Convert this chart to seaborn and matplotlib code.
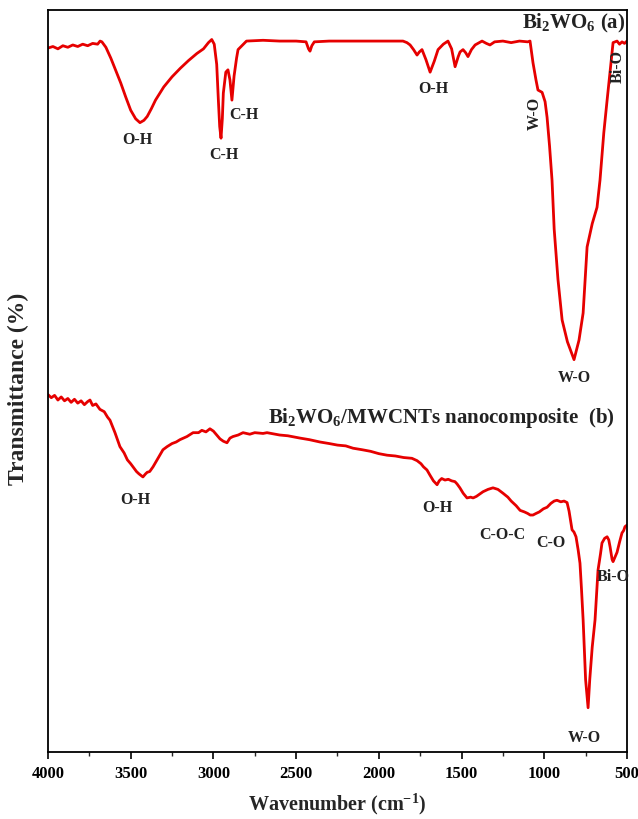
import pandas as pd
import seaborn as sns
import matplotlib.pyplot as plt
from matplotlib.ticker import MultipleLocator

# Bi2WO6 spectrum (a): wavenumber (cm-1) / transmittance (a.u.)
wn_a = [4000, 3970, 3940, 3910, 3880, 3850, 3820, 3790, 3760, 3730, 3700, 3685, 3674, 3650,
        3620, 3590, 3560, 3530, 3500, 3470, 3444, 3420, 3400, 3375, 3350, 3300, 3250, 3200,
        3150, 3100, 3060, 3030, 3010, 2995, 2980, 2970, 2962, 2954, 2946, 2940, 2925, 2912,
        2900, 2888, 2875, 2860, 2851, 2800, 2700, 2600, 2500, 2440, 2425, 2416, 2405, 2390,
        2300, 2200, 2100, 2000, 1900, 1854, 1830, 1811, 1790, 1769, 1755, 1739, 1715, 1690,
        1665, 1642, 1610, 1582, 1560, 1539, 1520, 1509, 1491, 1475, 1461, 1440, 1418, 1376,
        1350, 1328, 1300, 1250, 1200, 1150, 1100, 1086, 1068, 1050, 1038, 1013, 995, 983,
        968, 953, 940, 917, 892, 860, 820, 790, 765, 741, 710, 681, 663, 640, 620, 600, 584,
        560, 545, 530, 515, 500]
t_a = [95.1, 95.3, 95.0, 95.4, 95.2, 95.5, 95.3, 95.6, 95.4, 95.7, 95.6, 96.0, 95.9, 95.2,
       93.8, 92.2, 90.6, 88.8, 87.1, 86.0, 85.5, 85.8, 86.3, 87.3, 88.4, 90.1, 91.4, 92.5,
       93.5, 94.4, 95.0, 95.8, 96.2, 95.6, 93.0, 88.4, 85.0, 83.5, 86.0, 89.3, 92.0, 92.3,
       91.0, 88.4, 91.5, 93.8, 94.9, 96.0, 96.1, 96.0, 96.0, 95.9, 95.0, 94.7, 95.4, 95.9,
       96.0, 96.0, 96.0, 96.0, 96.0, 96.0, 95.8, 95.5, 94.9, 94.2, 94.6, 94.9, 93.6, 92.0,
       93.4, 94.9, 95.6, 96.0, 95.0, 92.7, 94.0, 94.6, 94.9, 94.5, 94.0, 94.9, 95.5, 96.0,
       95.7, 95.5, 95.9, 96.0, 95.8, 96.0, 95.9, 96.0, 93.2, 91.0, 89.7, 89.4, 88.2, 86.2,
       82.5, 78.1, 71.8, 65.3, 60.1, 57.3, 55.0, 57.5, 61.0, 69.5, 72.5, 74.6, 78.1, 84.2,
       88.4, 92.5, 95.8, 96.0, 95.6, 95.9, 95.7, 96.0]

# Bi2WO6/MWCNTs nanocomposite spectrum (b)
wn_b = [4000, 3980, 3960, 3940, 3920, 3900, 3880, 3860, 3840, 3820, 3800, 3780, 3760, 3746,
        3730, 3710, 3686, 3660, 3640, 3625, 3595, 3565, 3540, 3520, 3500, 3486, 3465, 3450,
        3426, 3410, 3400, 3385, 3365, 3335, 3305, 3280, 3250, 3225, 3202, 3160, 3123, 3090,
        3070, 3045, 3021, 3000, 2980, 2960, 2940, 2918, 2900, 2882, 2850, 2821, 2780, 2750,
        2700, 2676, 2600, 2550, 2476, 2420, 2356, 2300, 2250, 2200, 2156, 2100, 2050, 2000,
        1950, 1900, 1850, 1800, 1769, 1745, 1730, 1709, 1690, 1670, 1648, 1635, 1620, 1600,
        1580, 1560, 1540, 1527, 1510, 1490, 1467, 1445, 1430, 1410, 1390, 1370, 1340, 1310,
        1280, 1249, 1220, 1200, 1170, 1146, 1120, 1100, 1085, 1068, 1050, 1030, 1005, 983,
        960, 940, 923, 900, 880, 862, 850, 840, 832, 820, 808, 795, 784, 775, 765, 750, 735,
        725, 710, 693, 675, 660, 651, 635, 620, 610, 602, 590, 584, 572, 560, 545, 530, 520,
        512, 500]
t_b = [50.5, 50.1, 50.4, 49.8, 50.2, 49.7, 50.0, 49.5, 49.9, 49.4, 49.7, 49.2, 49.6, 49.8,
       49.1, 49.3, 48.6, 48.3, 47.6, 47.2, 45.6, 43.8, 43.0, 42.1, 41.6, 41.2, 40.6, 40.3,
       39.9, 40.3, 40.5, 40.6, 41.2, 42.3, 43.4, 43.8, 44.2, 44.4, 44.7, 45.1, 45.6, 45.6,
       45.9, 45.7, 46.1, 45.8, 45.3, 44.8, 44.5, 44.3, 44.9, 45.1, 45.3, 45.6, 45.4, 45.6,
       45.5, 45.6, 45.3, 45.2, 44.9, 44.7, 44.4, 44.2, 44.0, 43.9, 43.6, 43.4, 43.2, 42.9,
       42.7, 42.6, 42.4, 42.3, 42.0, 41.6, 41.2, 40.8, 40.1, 39.4, 38.9, 39.4, 39.7, 39.5,
       39.6, 39.4, 39.3, 39.0, 38.5, 37.8, 37.2, 37.3, 37.2, 37.4, 37.7, 38.0, 38.3, 38.5,
       38.3, 37.8, 37.3, 36.8, 36.2, 35.6, 35.4, 35.2, 35.0, 35.0, 35.2, 35.4, 35.8, 36.0,
       36.5, 36.8, 36.9, 36.7, 36.8, 36.6, 35.5, 34.2, 33.1, 32.8, 32.2, 30.5, 28.8, 25.5,
       21.5, 13.8, 10.2, 13.8, 18.0, 21.5, 27.9, 30.0, 31.4, 32.0, 32.2, 31.8, 30.9, 29.3,
       29.0, 29.6, 30.2, 31.5, 32.7, 33.0, 33.5, 33.7]

x_ticks = [4000, 3500, 3000, 2500, 2000, 1500, 1000, 500]

df_a = pd.DataFrame({'wn': wn_a, 't': t_a})
df_b = pd.DataFrame({'wn': wn_b, 't': t_b})

sns.set_theme(style="ticks")
plt.rcParams['font.family'] = ['Liberation Serif', 'DejaVu Serif']
plt.rcParams['font.weight'] = 'bold'
plt.rcParams['mathtext.default'] = 'regular'

fig = plt.figure(figsize=(6.38, 8.19), dpi=100)
ax = fig.add_axes([0.0752, 0.0818, 0.9075, 0.906])

red = '#e60000'
sns.lineplot(data=df_a, x='wn', y='t', color=red, lw=2, estimator=None, ax=ax)
sns.lineplot(data=df_b, x='wn', y='t', color=red, lw=2, estimator=None, ax=ax)

ax.set_xlim(4000, 500)
ax.set_ylim(4.5, 100)
for sp in ax.spines.values():
    sp.set_visible(True)
    sp.set_color('black')
    sp.set_linewidth(1.3)

ax.set_yticks([])
ax.set_xticks(x_ticks)
ax.set_xticklabels([str(v) for v in x_ticks])
ax.xaxis.set_minor_locator(MultipleLocator(250))
ax.tick_params(axis='x', which='major', direction='out', length=5, width=1.2,
               labelsize=12, pad=5, top=False, colors='black')
ax.tick_params(axis='x', which='minor', direction='out', length=3, width=1.0, top=False)

ax.set_xlabel('Wavenumber (cm$^{-1}$)', fontsize=14.5, fontweight='bold', labelpad=7)
ax.set_ylabel('Transmittance (%)', fontsize=17, fontweight='bold')
ax.yaxis.set_label_coords(-0.032, 0.49)

# peak assignments
notes = [
    ('O-H', 3462, 83.3, 0), ('C-H', 2936, 81.3, 0), ('C-H', 2815, 86.5, 0),
    ('O-H', 1672, 89.8, 0), ('W-O', 1056, 86.7, 90), ('Bi-O', 554, 92.7, 90),
    ('W-O', 820, 52.6, 0),
    ('O-H', 3474, 36.9, 0), ('O-H', 1648, 35.9, 0), ('C-O-C', 1255, 32.4, 0),
    ('C-O', 959, 31.4, 0), ('Bi-O', 584, 27.0, 0), ('W-O', 759, 6.3, 0),
]
for txt, x, y, rot in notes:
    ax.text(x, y, txt, ha='center', va='center', fontsize=11.5, fontweight='bold',
            rotation=rot, color='#222222')

ax.text(512, 98.3, 'Bi$_2$WO$_6$ (a)', ha='right', va='center', fontsize=15,
        fontweight='bold', color='#222222')
ax.text(1624, 47.5, 'Bi$_2$WO$_6$/MWCNTs nanocomposite  (b)', ha='center', va='center',
        fontsize=15, fontweight='bold', color='#222222')

fig.savefig('out.png', dpi=100)
